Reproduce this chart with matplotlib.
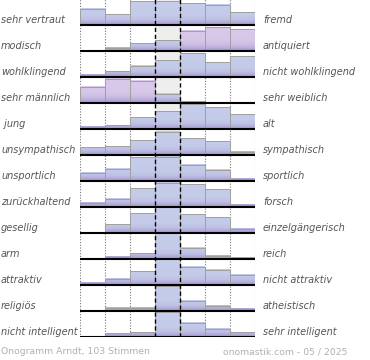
import numpy as np
import matplotlib
matplotlib.use("Agg")
import matplotlib.pyplot as plt
from matplotlib.patches import Rectangle

# ---------------- data ----------------
left_labels = ["sehr vertraut", "modisch", "wohlklingend", "sehr männlich", " jung",
               "unsympathisch", "unsportlich", "zurückhaltend", "gesellig", "arm",
               "attraktiv", "religiös", "nicht intelligent"]
right_labels = ["fremd", "antiquiert", "nicht wohlklingend", "sehr weiblich", "alt",
                "sympathisch", "sportlich", "forsch", "einzelgängerisch", "reich",
                "nicht attraktiv", "atheistisch", "sehr intelligent"]
# bar heights per row, 7 scale steps, in percent of row height
values = [
    [62, 42, 92, 92, 83, 78, 50],
    [0, 13, 30, 41, 78, 91, 83],
    [9, 22, 43, 64, 91, 57, 80],
    [63, 93, 86, 36, 7, 0, 0],
    [9, 15, 45, 69, 96, 83, 57],
    [30, 33, 57, 90, 64, 53, 13],
    [31, 47, 91, 93, 63, 43, 9],
    [17, 32, 72, 94, 88, 68, 8],
    [1, 33, 76, 99, 72, 60, 17],
    [0, 9, 22, 100, 43, 12, 5],
    [9, 24, 53, 100, 70, 59, 40],
    [0, 13, 13, 97, 40, 20, 9],
    [0, 14, 18, 96, 55, 32, 18],
]
footer_left = "Onogramm Arndt, 103 Stimmen"
footer_right = "onomastik.com - 05 / 2025"

# highlighted (pink) bars: (row, columns)
pink = {1: [4, 5, 6], 3: [0, 1, 2]}

# ---------------- figure ----------------
W, H = 370, 360
fig = plt.figure(figsize=(W / 100, H / 100), dpi=100)
fig.patch.set_facecolor("white")
nrows = len(values)
ncols = 7
row_px = 26
ax = fig.add_axes([80 / W, 23 / H, 175 / W, nrows * row_px / H])
ax.set_xlim(0, ncols)
ax.set_ylim(0, nrows)
ax.axis("off")


def grad_img(h, pinkish):
    n = 60
    hpx = np.linspace(0, h * row_px, n)
    stops = [0, 2, 5, 10, 30]
    if pinkish:
        cols = np.array([(160, 148, 205), (178, 165, 214), (200, 185, 225),
                         (214, 198, 232), (220, 202, 234)]) / 255
    else:
        cols = np.array([(160, 150, 205), (176, 168, 216), (190, 192, 228),
                         (196, 203, 233), (198, 206, 234)]) / 255
    img = np.stack([np.interp(hpx, stops, cols[:, c]) for c in range(3)], axis=-1)
    return img[:, None, :]


for r, row in enumerate(values):
    base = nrows - 1 - r
    # neutral column background
    ax.add_patch(Rectangle((3, base), 1, 1, facecolor="#eeeeee", edgecolor="none", zorder=1))
    for c, v in enumerate(row):
        h = v / 100.0
        if h <= 0:
            continue
        img = grad_img(h, c in pink.get(r, []))
        ax.imshow(img, extent=[c, c + 1, base, base + h], origin="lower",
                  aspect="auto", interpolation="bilinear", zorder=2)
        ax.plot([c, c, c + 1, c + 1], [base, base + h, base + h, base],
                color="#a0a0a0", lw=0.7, zorder=3, solid_joinstyle="miter")
    ax.hlines(base, 0, ncols, color="black", lw=1.5, zorder=4)

ax.set_xlim(0, ncols)
ax.set_ylim(0, nrows)

# grid lines
for x in [0, 1, 2, 5, 6, 7]:
    ax.axvline(x, color="#777777", lw=0.8, ls=(0, (1, 1.5)), zorder=0.5)
for x in [3, 4]:
    ax.axvline(x, color="black", lw=1.0, ls=(0, (3, 2)), zorder=5)

# labels
for r in range(nrows):
    ypx = 25 + r * row_px - 5
    yf = 1 - ypx / H
    fig.text(1 / W, yf, left_labels[r], ha="left", va="center", fontsize=7,
             style="italic", color="#555555", family="DejaVu Sans")
    fig.text(263 / W, yf, right_labels[r], ha="left", va="center", fontsize=7,
             style="italic", color="#555555", family="DejaVu Sans")

fig.text(1 / W, 1 - 352 / H, footer_left, ha="left", va="center", fontsize=6.7,
         color="#b0b0b0", family="DejaVu Sans")
fig.text(347 / W, 1 - 352 / H, footer_right, ha="right", va="center", fontsize=6.7,
         color="#b0b0b0", family="DejaVu Sans")

fig.savefig("out.png", dpi=100, facecolor="white")
